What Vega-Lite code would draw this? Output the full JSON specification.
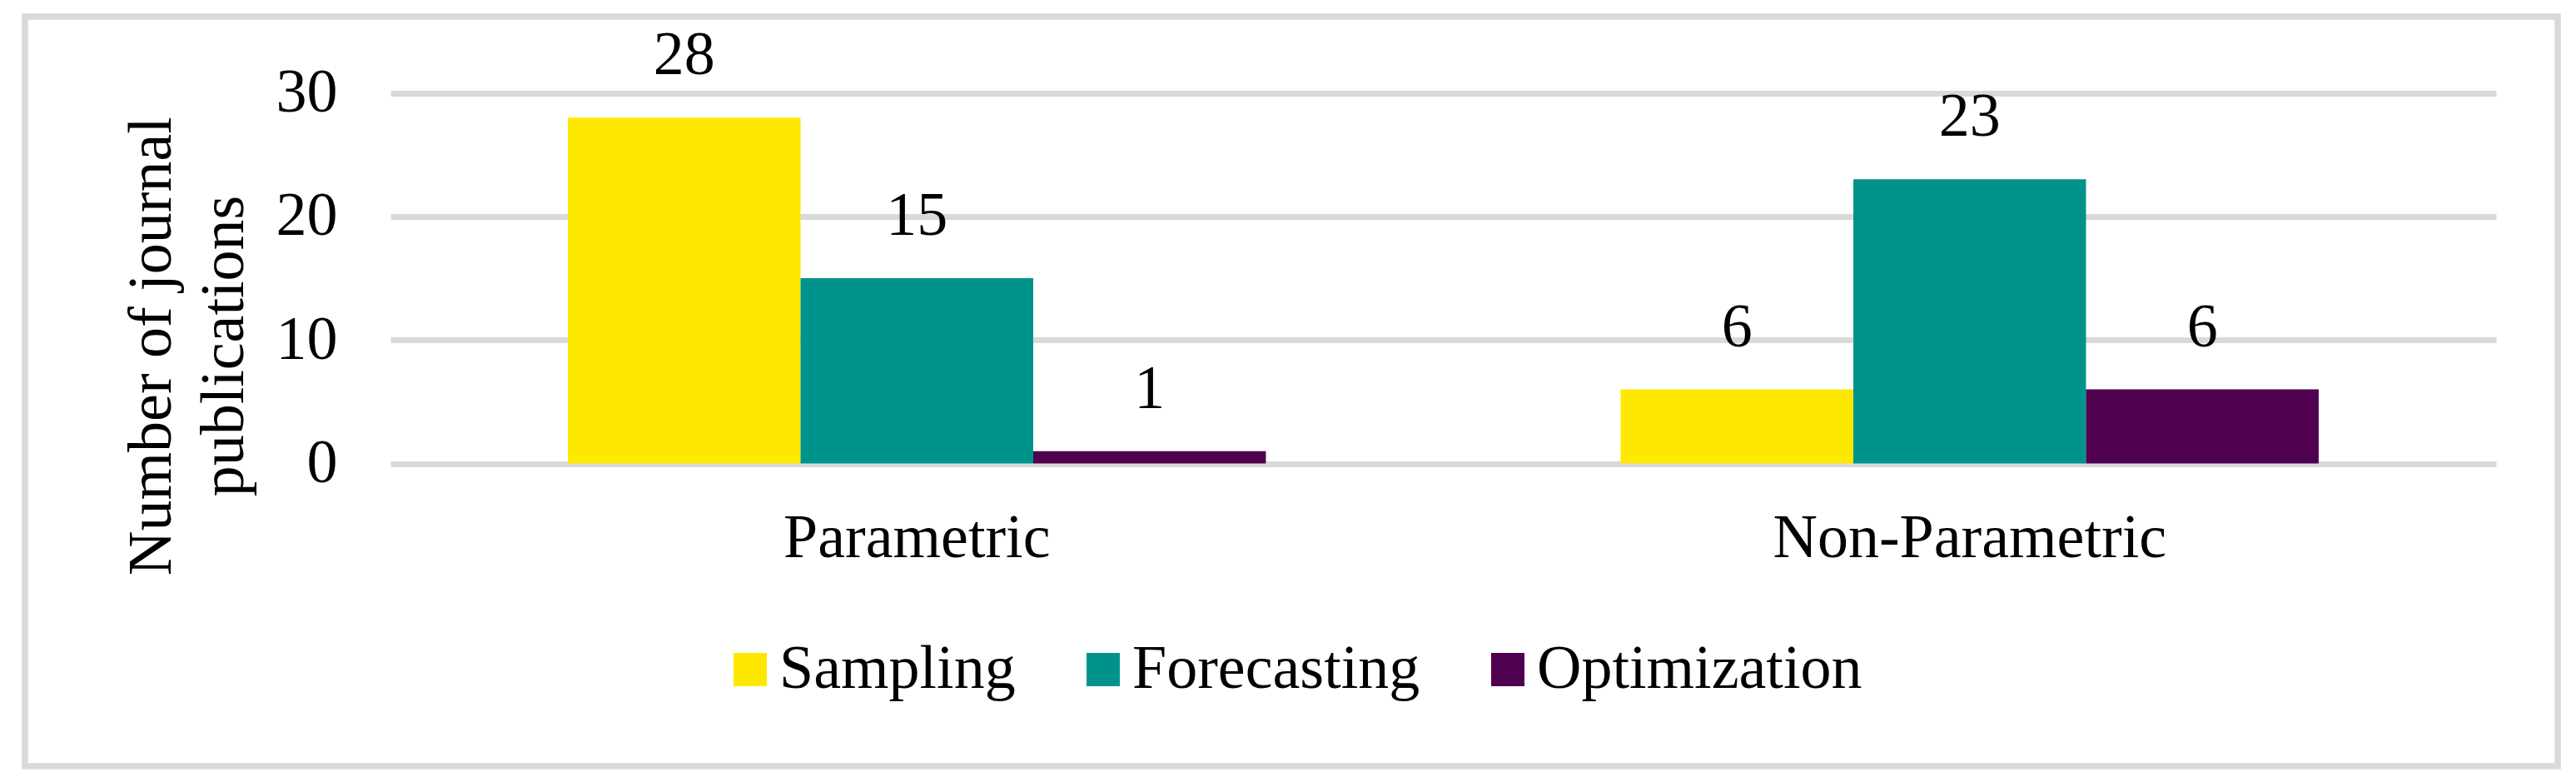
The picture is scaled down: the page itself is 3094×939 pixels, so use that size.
{
  "$schema": "https://vega.github.io/schema/vega-lite/v6.json",
  "width": 3042,
  "height": 900,
  "autosize": {"type": "none"},
  "padding": {"left": 30, "top": 20, "right": 22, "bottom": 19},
  "background": "white",
  "config": {
    "view": {"stroke": "#d9d9d9", "strokeWidth": 7.5},
    "font": "Liberation Serif"
  },
  "data": {
    "values": [
      {"method": "Parametric", "task": "Sampling", "count": 28},
      {"method": "Parametric", "task": "Forecasting", "count": 15},
      {"method": "Parametric", "task": "Optimization", "count": 1},
      {"method": "Non-Parametric", "task": "Sampling", "count": 6},
      {"method": "Non-Parametric", "task": "Forecasting", "count": 23},
      {"method": "Non-Parametric", "task": "Optimization", "count": 6}
    ]
  },
  "encoding": {
    "x": {
      "field": "method",
      "type": "nominal",
      "sort": ["Parametric", "Non-Parametric"],
      "scale": {"range": [439, 2968], "paddingInner": 0.337, "paddingOuter": 0.1685},
      "axis": {
        "orient": "bottom",
        "offset": -363.5,
        "title": null,
        "ticks": false,
        "tickSize": 0,
        "domain": false,
        "grid": false,
        "labelAngle": 0,
        "labelLimit": 0,
        "labelPadding": 112,
        "labelBaseline": "alphabetic",
        "labelFontSize": 74,
        "labelFont": "Liberation Serif",
        "labelColor": "#000000"
      }
    },
    "xOffset": {
      "field": "task",
      "type": "nominal",
      "sort": ["Sampling", "Forecasting", "Optimization"],
      "scale": {"paddingInner": 0, "paddingOuter": 0}
    },
    "y": {
      "field": "count",
      "type": "quantitative",
      "scale": {"domain": [0, 30], "range": [536.5, 91.5], "nice": false, "zero": true},
      "axis": {
        "orient": "left",
        "offset": -439,
        "values": [0, 10, 20, 30],
        "grid": true,
        "gridColor": "#d9d9d9",
        "gridWidth": 7,
        "domain": false,
        "ticks": false,
        "tickSize": 0,
        "labelPadding": 64,
        "labelFontSize": 74,
        "labelFont": "Liberation Serif",
        "labelColor": "#000000",
        "title": ["Number of journal", "publications"],
        "titleFont": "Liberation Serif",
        "titleFontSize": 74,
        "titleFontWeight": "normal",
        "titleColor": "#000000",
        "titleAngle": -90,
        "titleX": -265,
        "titleY": 395,
        "titleAlign": "center",
        "titleBaseline": "alphabetic",
        "titleLineHeight": 87
      }
    }
  },
  "layer": [
    {
      "mark": {"type": "bar"},
      "encoding": {
        "color": {
          "field": "task",
          "type": "nominal",
          "sort": ["Sampling", "Forecasting", "Optimization"],
          "scale": {
            "domain": ["Sampling", "Forecasting", "Optimization"],
            "range": ["#FFE800", "#00938C", "#4F004F"]
          },
          "legend": {
            "orient": "none",
            "legendX": 834,
            "legendY": 747,
            "direction": "horizontal",
            "title": null,
            "padding": 0,
            "symbolType": "square",
            "symbolSize": 1600,
            "symbolStrokeWidth": 0,
            "labelOffset": -2,
            "columnPadding": 68,
            "labelFont": "Liberation Serif",
            "labelFontSize": 74,
            "labelColor": "#000000",
            "labelLimit": 0
          }
        }
      }
    },
    {
      "mark": {
        "type": "text",
        "dy": -52,
        "baseline": "alphabetic",
        "align": "center",
        "fontSize": 74,
        "font": "Liberation Serif",
        "color": "#000000"
      },
      "encoding": {
        "text": {"field": "count", "type": "quantitative"}
      }
    }
  ]
}
